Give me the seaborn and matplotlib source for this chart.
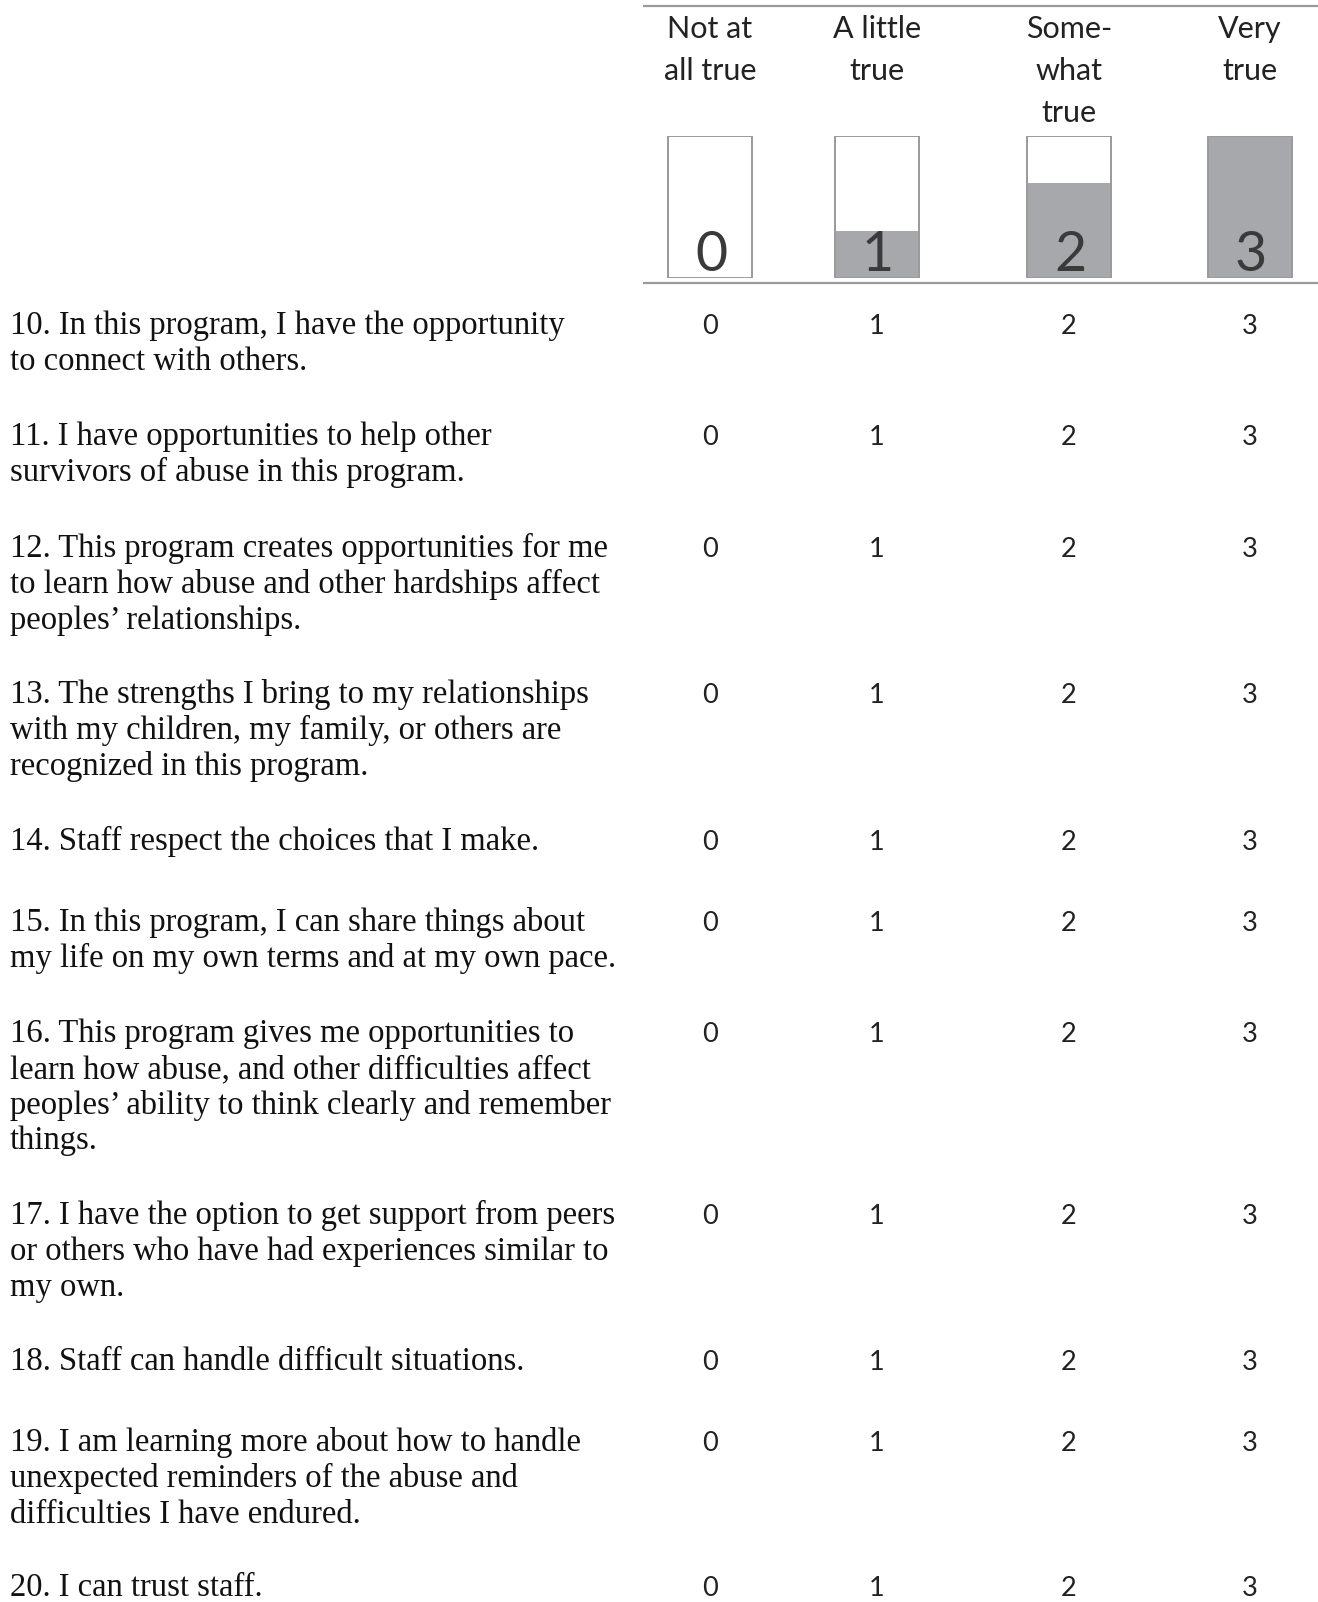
import matplotlib
matplotlib.use("Agg")
import matplotlib.pyplot as plt
import seaborn as sns
import pandas as pd

# ---------------- data ----------------
scale_labels = ["Not at\nall true", "A little\ntrue", "Some-\nwhat\ntrue", "Very\ntrue"]
scale_values = [0, 1, 2, 3]
scale_max = 3

questions = [
    "10. In this program, I have the opportunity\nto connect with others.",
    "11. I have opportunities to help other\nsurvivors of abuse in this program.",
    "12. This program creates opportunities for me\nto learn how abuse and other hardships affect\npeoples\u2019 relationships.",
    "13. The strengths I bring to my relationships\nwith my children, my family, or others are\nrecognized in this program.",
    "14. Staff respect the choices that I make.",
    "15. In this program, I can share things about\nmy life on my own terms and at my own pace.",
    "16. This program gives me opportunities to\nlearn how abuse, and other difficulties affect\npeoples\u2019 ability to think clearly and remember\nthings.",
    "17. I have the option to get support from peers\nor others who have had experiences similar to\nmy own.",
    "18. Staff can handle difficult situations.",
    "19. I am learning more about how to handle\nunexpected reminders of the abuse and\ndifficulties I have endured.",
    "20. I can trust staff.",
]

# ---------------- layout (figure pixels) ----------------
W, H = 1318, 1602
col_x = [710, 877, 1069, 1250]
row_y = [325, 436, 548, 694, 841, 922, 1033, 1215, 1361, 1442, 1587]
line_h = 35.8
box_top, box_bot = 136, 278

GRAY_FILL = "#a7a8ab"
GRAY_LINE = "#9a9a9a"
SANS = ["Lato", "DejaVu Sans"]
SERIF = ["Liberation Serif", "DejaVu Serif"]

sns.set_theme(style="white")
plt.rcParams["font.family"] = SANS

fig = plt.figure(figsize=(W / 100, H / 100), dpi=100)
fig.patch.set_facecolor("white")

# gauge boxes with seaborn barplot (bottom layer)
gax = fig.add_axes([0, 1 - box_bot / H, 1, (box_bot - box_top) / H])
gax.set_zorder(0)
gdf = pd.DataFrame({"x": col_x, "level": scale_values, "full": [scale_max] * 4})
sns.barplot(data=gdf, x="x", y="level", native_scale=True, width=0.5,
            color=GRAY_FILL, saturation=1, linewidth=0, errorbar=None, ax=gax)
sns.barplot(data=gdf, x="x", y="full", native_scale=True, width=0.5,
            color=GRAY_LINE, fill=False, linewidth=1.4, errorbar=None, ax=gax)
gax.set_xlim(0, W)
gax.set_ylim(0, scale_max)
gax.axis("off")
gax.patch.set_alpha(0)

# text layer on top, in pixel coordinates
ax = fig.add_axes([0, 0, 1, 1])
ax.set_zorder(1)
ax.patch.set_alpha(0)
ax.set_xlim(0, W)
ax.set_ylim(H, 0)
ax.axis("off")

# header rules
ax.plot([643, W], [6, 6], color=GRAY_LINE, lw=1.6, solid_capstyle="butt")
ax.plot([643, W], [283, 283], color=GRAY_LINE, lw=1.6, solid_capstyle="butt")

# header labels
header_base = [38, 80, 122]
for x, lab in zip(col_x, scale_labels):
    for i, part in enumerate(lab.split("\n")):
        ax.text(x, header_base[i], part, ha="center", va="baseline",
                fontsize=22, family=SANS, color="#222222")

# big digits in boxes
for x, v in zip(col_x, scale_values):
    ax.text(x + 1, 271, str(v), ha="center", va="baseline", fontsize=40,
            family=SANS, color="#3a3a3a")

# question rows
for q, y in zip(questions, row_y):
    base = y + 9
    for i, part in enumerate(q.split("\n")):
        ax.text(10, base + i * line_h, part, ha="left", va="baseline",
                fontsize=23.5, family=SERIF, color="#111111")
    for x, v in zip(col_x, scale_values):
        ax.text(x, base, str(v), ha="center", va="baseline", fontsize=19.5,
                family=SANS, color="#222222")

fig.savefig("out.png", dpi=100, facecolor="white")
